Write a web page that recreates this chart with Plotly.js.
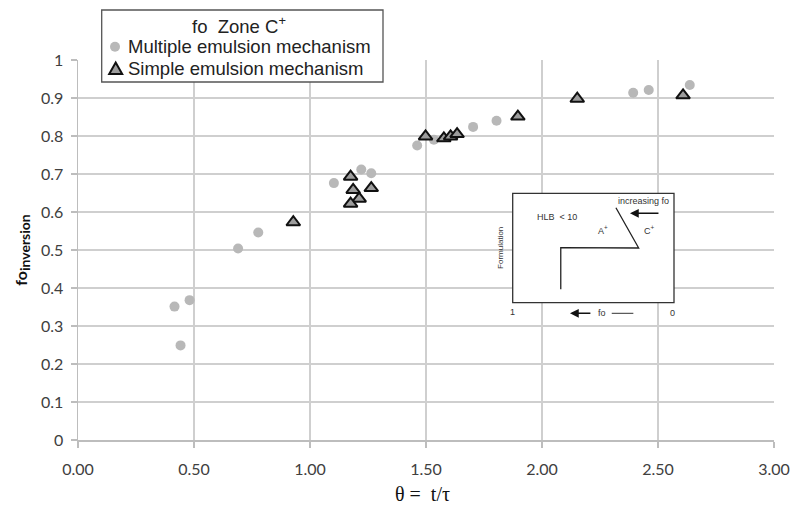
<!DOCTYPE html>
<html>
<head>
<meta charset="utf-8">
<script src="https://cdn.plot.ly/plotly-3.0.1.min.js"></script>
<style>html,body{margin:0;padding:0;background:#fff;}</style>
</head>
<body>
<div id="chart" style="width:790px;height:508px;"></div>
<script>
// Data
const multipleX = [0.416, 0.442, 0.481, 0.690, 0.777, 1.103, 1.221, 1.264, 1.462, 1.534, 1.703, 1.804, 2.393, 2.460, 2.637];
const multipleY = [0.351, 0.249, 0.368, 0.504, 0.546, 0.676, 0.712, 0.702, 0.775, 0.790, 0.824, 0.840, 0.914, 0.921, 0.934];
const simpleX = [0.928, 1.175, 1.186, 1.212, 1.175, 1.264, 1.498, 1.577, 1.606, 1.634, 1.896, 2.152, 2.608];
const simpleY = [0.573, 0.693, 0.658, 0.635, 0.622, 0.663, 0.799, 0.794, 0.799, 0.805, 0.851, 0.898, 0.907];
const seriesNames = ["Multiple emulsion mechanism", "Simple emulsion mechanism"];
const legendTitle = "fo\u00a0\u00a0Zone C<sup>+</sup>";
const xTitle = "θ =\u00a0 t/τ";
const xTickVals = [0, 0.5, 1, 1.5, 2, 2.5, 3];
const xTickText = ["0.00", "0.50", "1.00", "1.50", "2.00", "2.50", "3.00"];
const yTickVals = [0, 0.1, 0.2, 0.3, 0.4, 0.5, 0.6, 0.7, 0.8, 0.9, 1];
const yTickText = ["0", "0.1", "0.2", "0.3", "0.4", "0.5", "0.6", "0.7", "0.8", "0.9", "1"];

// styles
const gridC = '#cfcfcf';
const tickFont = {family: 'Lato, "Liberation Sans", sans-serif', size: 16, color: '#404040'};
const circleStyle = {symbol: 'circle', size: 10, color: '#b8b8b8', line: {width: 0}};
const triStyle = {symbol: 'triangle-up', size: 12, color: '#9d9d9d', line: {width: 2, color: '#111'}};

// layout geometry helpers (plot area: 78..774 px wide, 60..440 px high)
const M = {l: 78, r: 16, t: 60, b: 68};
const PW = 790 - M.l - M.r, PH = 508 - M.t - M.b;
const px = X => (X - M.l) / PW;
const py = Y => (508 - M.b - Y) / PH;
// inset box in pixels
const IB = {x0: 512.7, x1: 674, y0: 193.3, y1: 302.7};
const ix = u => px(IB.x0 + u * (IB.x1 - IB.x0));
const iy = v => py(IB.y1 - v * (IB.y1 - IB.y0));

const traces = [
  {type: 'scatter', mode: 'markers', name: seriesNames[0], x: multipleX, y: multipleY, marker: circleStyle, showlegend: false},
  {type: 'scatter', mode: 'markers', name: seriesNames[1], x: simpleX, y: simpleY, marker: triStyle, showlegend: false}
];

const insetTextFont = {family: '"Liberation Sans", Arial, sans-serif', size: 9, color: '#333'};
const legendFont = {family: '"Liberation Sans", Arial, sans-serif', size: 18.5, color: '#222'};

const shapes = [
  // legend box
  {type: 'rect', xref: 'paper', yref: 'paper', x0: px(101.7), x1: px(383), y0: py(10), y1: py(82), fillcolor: '#fff', line: {color: '#555', width: 1.3}, layer: 'above'},
  // legend symbols
  {type: 'circle', xref: 'paper', yref: 'paper', xsizemode: 'pixel', ysizemode: 'pixel', xanchor: px(115), yanchor: py(46.7), x0: -5, x1: 5, y0: -5, y1: 5, fillcolor: circleStyle.color, line: {width: 0}, layer: 'above'},
  {type: 'path', xref: 'paper', yref: 'paper', xsizemode: 'pixel', ysizemode: 'pixel', xanchor: px(115.7), yanchor: py(69), path: 'M -6.5 -5 L 6.5 -5 L 0 6.5 Z', fillcolor: triStyle.color, line: {color: '#111', width: 2}, layer: 'above'},
  // inset box and schematic
  {type: 'rect', xref: 'paper', yref: 'paper', x0: ix(0), x1: ix(1), y0: iy(0), y1: iy(1), fillcolor: '#fff', line: {color: '#333', width: 1.3}, layer: 'above'},
  {type: 'path', xref: 'paper', yref: 'paper', path: `M ${ix(0.640)} ${iy(0.868)} L ${ix(0.781)} ${iy(0.500)} L ${ix(0.298)} ${iy(0.503)} L ${ix(0.298)} ${iy(0.122)}`, line: {color: '#222', width: 1.3}, layer: 'above'},
  {type: 'line', xref: 'paper', yref: 'paper', x0: ix(0.614), x1: ix(0.748), y0: iy(-0.097), y1: iy(-0.097), line: {color: '#333', width: 1}, layer: 'above'}
];

const C = {xanchor: 'center', yanchor: 'middle', showarrow: false, xref: 'paper', yref: 'paper'};
const annotations = [
  // legend texts
  Object.assign({}, C, {x: px(239), y: py(25), text: legendTitle, font: legendFont}),
  Object.assign({}, C, {x: px(126), y: py(46.7), text: seriesNames[0], font: legendFont, xanchor: 'left'}),
  Object.assign({}, C, {x: px(126), y: py(69), text: seriesNames[1], font: legendFont, xanchor: 'left'}),
  // x-axis title
  Object.assign({}, C, {x: px(422.5), y: py(494), borderpad: 0, text: xTitle, font: {family: '"Liberation Serif", "Times New Roman", serif', size: 20, color: '#111'}}),
  // inset arrows and texts
  {xref: 'paper', yref: 'paper', x: ix(0.727), y: iy(0.817), ax: ix(0.913), ay: iy(0.817), axref: 'paper', ayref: 'paper', text: '', showarrow: true, arrowhead: 2, arrowsize: 1.1, arrowwidth: 1.6, arrowcolor: '#111'},
  {xref: 'paper', yref: 'paper', x: ix(0.355), y: iy(-0.097), ax: ix(0.491), ay: iy(-0.097), axref: 'paper', ayref: 'paper', text: '', showarrow: true, arrowhead: 2, arrowsize: 1.1, arrowwidth: 1.6, arrowcolor: '#111'},
  Object.assign({}, C, {x: ix(0.810), y: iy(0.932), text: 'increasing fo', font: insetTextFont}),
  Object.assign({}, C, {x: ix(0.273), y: iy(0.786), text: 'HLB\u00a0\u00a0< 10', font: insetTextFont}),
  Object.assign({}, C, {x: ix(0.562), y: iy(0.660), text: 'A<sup>+</sup>', font: insetTextFont}),
  Object.assign({}, C, {x: ix(0.851), y: iy(0.665), text: 'C<sup>+</sup>', font: insetTextFont}),
  Object.assign({}, C, {x: ix(-0.079), y: iy(0.5), text: 'Formulation', textangle: -90, font: {family: '"Liberation Sans", Arial, sans-serif', size: 8, color: '#333'}}),
  Object.assign({}, C, {x: ix(0.0), y: iy(-0.085), text: '1', font: insetTextFont}),
  Object.assign({}, C, {x: ix(0.988), y: iy(-0.097), text: '0', font: insetTextFont}),
  Object.assign({}, C, {x: ix(0.552), y: iy(-0.090), text: 'fo', font: insetTextFont})
];

const layout = {
  width: 790, height: 508,
  margin: {l: M.l, r: M.r, t: M.t, b: M.b, pad: 0},
  paper_bgcolor: '#fff', plot_bgcolor: '#fff',
  showlegend: false,
  xaxis: {
    range: [0, 3], tickvals: xTickVals, ticktext: xTickText,
    showgrid: true, gridcolor: gridC, gridwidth: 1.5,
    zeroline: false, showline: true, linecolor: '#bdbdbd', linewidth: 1.5,
    ticks: 'outside', ticklen: 6, tickcolor: '#bdbdbd', tickwidth: 1.5,
    tickfont: tickFont, ticklabelstandoff: 8,
    fixedrange: true
  },
  yaxis: {
    range: [0, 1], tickvals: yTickVals, ticktext: yTickText,
    showgrid: true, gridcolor: gridC, gridwidth: 1.5,
    zeroline: false, showline: true, linecolor: '#bdbdbd', linewidth: 1.5,
    ticks: 'outside', ticklen: 6, tickcolor: '#bdbdbd', tickwidth: 1.5,
    tickfont: tickFont, ticklabelstandoff: 4,
    title: {text: '<b>fo</b><sub><span style="font-size:14px"><b>inversion</b></span></sub>', font: {family: 'Lato, "Liberation Sans", sans-serif', size: 16, color: '#111'}, standoff: 9},
    fixedrange: true
  },
  shapes: shapes,
  annotations: annotations
};

Plotly.newPlot('chart', traces, layout, {displayModeBar: false, staticPlot: true});
</script>
</body>
</html>
